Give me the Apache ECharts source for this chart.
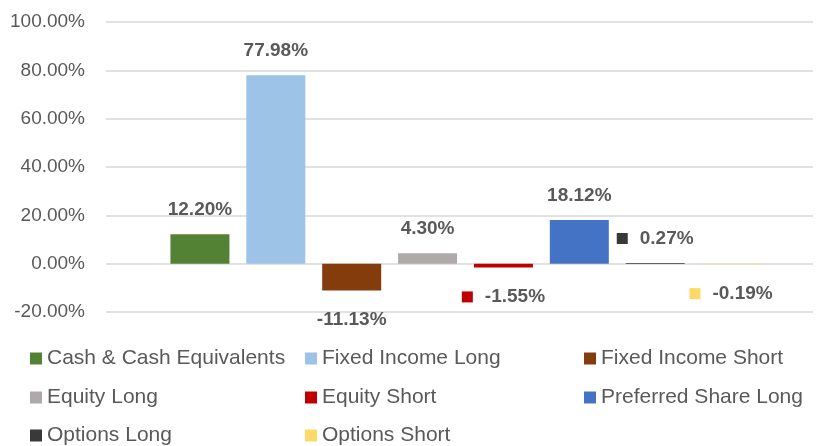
<!DOCTYPE html>
<html>
<head>
<meta charset="utf-8">
<script src="https://cdn.jsdelivr.net/npm/echarts@6/dist/echarts.min.js"></script>
<style>html,body{margin:0;padding:0;background:#fff;}#c{width:824px;height:446px;}</style>
</head>
<body>
<div id="c"></div>
<script>
var seriesNames = ['Cash & Cash Equivalents','Fixed Income Long','Fixed Income Short','Equity Long','Equity Short','Preferred Share Long','Options Long','Options Short'];
var seriesValues = [12.20, 77.98, -11.13, 4.30, -1.55, 18.12, 0.27, -0.19];
var seriesColors = ['#548235','#9DC3E6','#843C0C','#AEAAAA','#C00000','#4472C4','#3A3838','#FFD966'];
var withKey = [false,false,false,false,true,false,true,true];
var yMin = -20, yMax = 100, yStep = 20;

var FONT = "'Liberation Sans', Arial, sans-serif";
var chart = echarts.init(document.getElementById('c'), null, {renderer:'canvas'});

var series = seriesNames.map(function(name, i){
  var data = seriesValues.map(function(v, j){ return j === i ? v : null; });
  var neg = seriesValues[i] < 0;
  var fmt = function(p){
    var t = p.value.toFixed(2) + '%';
    return withKey[i] ? '{m|}{v|' + t + '}' : '{v|' + t + '}';
  };
  return {
    name: name, type: 'bar', stack: 'all', xAxisIndex: 1, yAxisIndex: 1,
    barWidth: 59, data: data,
    itemStyle: {color: seriesColors[i]},
    label: {
      show: true, position: neg ? 'bottom' : 'top', distance: neg ? 20 : 15,
      formatter: fmt,
      rich: {
        m: {width: 11, height: 11, backgroundColor: seriesColors[i]},
        v: {fontFamily: FONT, fontSize: 19, fontWeight: 'bold', color: '#595959', padding: withKey[i] ? [0,0,0,12] : 0}
      }
    }
  };
});

var colLeft = [30, 305, 584];
var rowTop = [348, 387, 425];
var legends = seriesNames.map(function(name, i){
  return {
    left: colLeft[i % 3], top: rowTop[Math.floor(i / 3)],
    itemWidth: 12, itemHeight: 12, icon: 'rect', data: [name],
    textStyle: {fontFamily: FONT, fontSize: 21, color: '#595959', lineHeight: 20},
    padding: 0
  };
});

chart.setOption({
  animation: false,
  grid: [
    {left: 106, right: 11, top: 22, bottom: 134},
    {left: 162, width: 607, top: 22, bottom: 134}
  ],
  legend: legends,
  xAxis: [
    {type: 'category', gridIndex: 0, data: [''], show: false},
    {type: 'category', gridIndex: 1, data: seriesNames, show: false}
  ],
  yAxis: [
    {type: 'value', gridIndex: 0, min: yMin, max: yMax, interval: yStep,
     axisLine: {show: false}, axisTick: {show: false},
     splitLine: {lineStyle: {color: '#D9D9D9', width: 1.5}},
     axisLabel: {margin: 21, fontFamily: FONT, fontSize: 19, color: '#595959',
       formatter: function(v){ return v.toFixed(2) + '%'; }}},
    {type: 'value', gridIndex: 1, min: yMin, max: yMax, interval: yStep, show: false, splitLine: {show: false}}
  ],
  series: series
});
</script>
</body>
</html>
